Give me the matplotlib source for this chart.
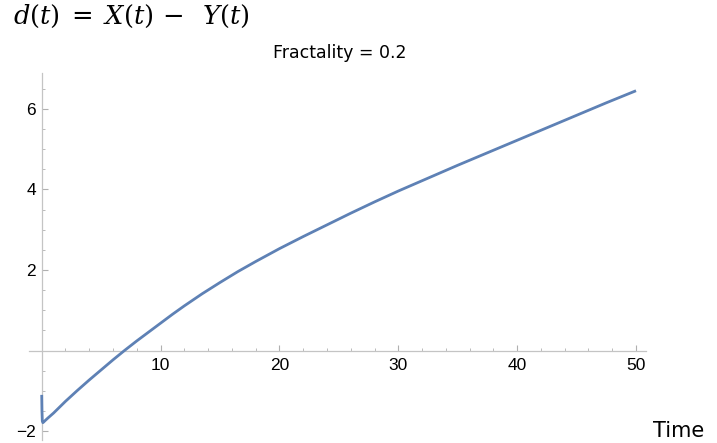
import matplotlib
matplotlib.use("Agg")
import matplotlib.pyplot as plt
from matplotlib.ticker import FixedLocator

# data
time = [0, 0.02, 0.05, 0.1, 0.5, 1, 2, 3, 4, 5, 6, 7, 8, 9, 10, 11, 12,
        13.5, 15, 16.5, 18, 20, 22, 24, 26, 28, 30, 32.5, 35, 37.5, 40,
        42.5, 45, 47.5, 50]
diff = [-1.10, -1.50, -1.75, -1.79, -1.68, -1.55, -1.26, -0.99, -0.73, -0.48,
        -0.23, 0.01, 0.24, 0.46, 0.68, 0.90, 1.11, 1.41, 1.69, 1.96, 2.21,
        2.53, 2.83, 3.12, 3.41, 3.69, 3.96, 4.28, 4.60, 4.91, 5.22, 5.53,
        5.84, 6.15, 6.45]
x_major = [10, 20, 30, 40, 50]
y_major = [-2, 2, 4, 6]

plt.rcParams['font.family'] = ['Liberation Sans', 'DejaVu Sans']
plt.rcParams['mathtext.fontset'] = 'dejavuserif'

fig = plt.figure(figsize=(7.17, 4.43), dpi=100)
ax = fig.add_axes([29/717, 3/443, (646-29)/717, (440-73)/443])

ax.plot(time, diff, color='#5E81B5', lw=2.0, solid_joinstyle='round',
        solid_capstyle='butt', zorder=3)

ax.set_xlim(-1.07, 50.84)
ax.set_ylim(-2.22, 6.89)

for s in ['top', 'right']:
    ax.spines[s].set_visible(False)
ax.spines['left'].set_position(('data', 0))
ax.spines['bottom'].set_position(('data', 0))
for s in ['left', 'bottom']:
    ax.spines[s].set_color('#c4c4c4')
    ax.spines[s].set_linewidth(0.9)

ax.xaxis.set_major_locator(FixedLocator(x_major))
ax.yaxis.set_major_locator(FixedLocator(y_major))
x_minor = [v for v in range(2, 51, 2) if v not in x_major]
y_minor = [v / 2 for v in range(-4, 14) if v != 0 and (v / 2) not in y_major]
ax.xaxis.set_minor_locator(FixedLocator(x_minor))
ax.yaxis.set_minor_locator(FixedLocator(y_minor))

ax.tick_params(which='both', direction='in', color='#b0b0b0', labelsize=12.5,
               labelcolor='black')
ax.tick_params(which='major', length=4.5, width=0.8)
ax.tick_params(which='minor', length=2.5, width=0.6)
ax.tick_params(axis='x', which='major', pad=5)
ax.tick_params(axis='y', which='major', pad=4)

fig.text(13/717, 1 - 24/443, r'$d(t)\;=\;X(t)\,-\;\;Y(t)$', fontsize=18.5,
         ha='left', va='baseline')
fig.text(340/717, 1 - 58/443, 'Fractality = 0.2', fontsize=12.5,
         family='DejaVu Sans', ha='center', va='baseline')
fig.text(653/717, 1 - 437/443, 'Time', fontsize=15, family='DejaVu Sans',
         ha='left', va='baseline')

fig.savefig('out.png', dpi=100)
